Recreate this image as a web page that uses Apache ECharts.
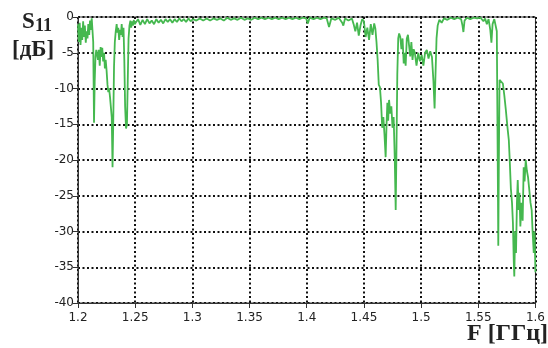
<!DOCTYPE html>
<html>
<head>
<meta charset="utf-8">
<script src="https://cdn.jsdelivr.net/npm/echarts@6/dist/echarts.min.js"></script>
<style>
  html, body { margin: 0; padding: 0; background: #fff; }
  #chart { width: 548px; height: 348px; }
</style>
</head>
<body>
<div id="chart"></div>
<script>
// Reflection coefficient S11 versus frequency
const freqGHz = [
  1.2000, 1.2008, 1.2015, 1.2022, 1.2030, 1.2037, 1.2045, 1.2052, 1.2060, 1.2068,
  1.2075, 1.2083, 1.2090, 1.2098, 1.2105, 1.2112, 1.2120, 1.2126, 1.2133, 1.2140,
  1.2146, 1.2153, 1.2160, 1.2168, 1.2175, 1.2182, 1.2190, 1.2198, 1.2205, 1.2212,
  1.2220, 1.2228, 1.2235, 1.2242, 1.2250, 1.2258, 1.2265, 1.2272, 1.2280, 1.2288,
  1.2295, 1.2302, 1.2308, 1.2315, 1.2322, 1.2330, 1.2338, 1.2345, 1.2352, 1.2360,
  1.2368, 1.2375, 1.2382, 1.2390, 1.2398, 1.2405, 1.2412, 1.2420, 1.2428, 1.2435,
  1.2442, 1.2450, 1.2458, 1.2465, 1.2472, 1.2480, 1.2488, 1.2495,
  1.2525, 1.2545, 1.2565, 1.2585, 1.2605, 1.2625, 1.2645, 1.2665, 1.2685, 1.2705,
  1.2725, 1.2745, 1.2765, 1.2785, 1.2805, 1.2825, 1.2845, 1.2865, 1.2885, 1.2905,
  1.2925, 1.2945, 1.2965, 1.2985, 1.3005, 1.3035, 1.3065, 1.3095, 1.3125, 1.3155,
  1.3185, 1.3215, 1.3245, 1.3275, 1.3305, 1.3335, 1.3365, 1.3395, 1.3425, 1.3455,
  1.3485, 1.3515, 1.3545, 1.3575, 1.3605, 1.3635, 1.3665, 1.3695, 1.3725, 1.3755,
  1.3785, 1.3815, 1.3845, 1.3875, 1.3905, 1.3935, 1.3965, 1.3995, 1.4010, 1.4025,
  1.4060, 1.4090, 1.4120, 1.4150, 1.4175, 1.4195, 1.4215, 1.4250, 1.4280, 1.4310,
  1.4320, 1.4335, 1.4365, 1.4395, 1.4410, 1.4425, 1.4440, 1.4455, 1.4470, 1.4485,
  1.4500, 1.4515, 1.4530, 1.4545, 1.4560, 1.4575, 1.4590, 1.4600, 1.4610, 1.4620,
  1.4630, 1.4640, 1.4650, 1.4660, 1.4670, 1.4680, 1.4690, 1.4698, 1.4705, 1.4712,
  1.4720, 1.4730, 1.4740, 1.4750, 1.4760, 1.4770, 1.4778, 1.4785, 1.4792, 1.4800,
  1.4808, 1.4818, 1.4828, 1.4838, 1.4848, 1.4855, 1.4865, 1.4875, 1.4885, 1.4895,
  1.4905, 1.4915, 1.4925, 1.4935, 1.4945, 1.4960, 1.4975, 1.4990, 1.5005, 1.5020,
  1.5035, 1.5050, 1.5065, 1.5080, 1.5095, 1.5108, 1.5118, 1.5126, 1.5135, 1.5145,
  1.5160, 1.5180, 1.5200, 1.5230, 1.5260, 1.5290, 1.5320, 1.5350, 1.5362, 1.5370,
  1.5380, 1.5400, 1.5430, 1.5460, 1.5490, 1.5520, 1.5545, 1.5560, 1.5575, 1.5590,
  1.5605, 1.5615, 1.5625, 1.5640, 1.5655, 1.5662, 1.5670, 1.5675, 1.5680, 1.5686,
  1.5700, 1.5715, 1.5728, 1.5741, 1.5755, 1.5767, 1.5775, 1.5785, 1.5795, 1.5803,
  1.5810, 1.5815, 1.5822, 1.5830, 1.5838, 1.5845, 1.5853, 1.5860, 1.5868, 1.5878,
  1.5888, 1.5897, 1.5905, 1.5915, 1.5925, 1.5935, 1.5945, 1.5957, 1.5967, 1.5975,
  1.5985, 1.5992, 1.6000
];

const s11dB = [
  -1.0, -3.5, -0.8, -3.9, -1.5, -3.2, -0.6, -2.8, -1.2, -3.6,
  -2.0, -3.0, -1.0, -2.5, -0.5, -1.8, -0.2, -0.4, -3.5, -14.8,
  -9.0, -5.5, -4.6, -4.4, -6.0, -4.6, -6.8, -4.2, -5.6, -4.3,
  -6.2, -5.0, -7.2, -6.0, -7.5, -9.5, -10.5, -10.0, -11.2, -11.0,
  -14.0, -21.0, -15.0, -7.0, -3.5, -2.0, -1.0, -2.2, -1.5, -3.2,
  -1.8, -2.5, -1.0, -2.8, -1.5, -6.0, -12.5, -15.6, -15.0, -9.0,
  -3.0, -1.2, -0.5, -1.5, -0.6, -1.2, -0.4, -1.0,
  -0.3, -1.1, -0.4, -1.0, -0.3, -0.9, -0.5, -1.0, -0.3, -0.8,
  -0.4, -0.9, -0.3, -0.7, -0.3, -0.8, -0.3, -0.7, -0.2, -0.6,
  -0.3, -0.7, -0.2, -0.6, -0.3, -0.5, -0.2, -0.5, -0.2, -0.5,
  -0.2, -0.4, -0.2, -0.5, -0.1, -0.4, -0.2, -0.4, -0.1, -0.4,
  -0.2, -0.4, -0.1, -0.3, -0.1, -0.3, -0.1, -0.3, -0.1, -0.3,
  -0.1, -0.3, -0.1, -0.3, -0.1, -0.3, -0.1, -0.2, -0.9, -0.1,
  -0.3, -0.1, -0.3, -0.1, -0.2, -1.4, -0.2, -0.4, -0.1, -0.8,
  -1.2, -0.2, -0.5, -0.2, -1.0, -2.0, -0.8, -2.6, -1.2, -0.3,
  -0.6, -2.8, -1.5, -3.2, -1.0, -2.5, -0.9, -1.6, -3.5, -6.0,
  -9.5, -9.8, -12.0, -15.5, -14.0, -16.5, -19.6, -15.0, -12.0, -14.5,
  -11.6, -13.5, -12.5, -15.5, -14.0, -20.0, -27.0, -18.0, -8.0, -3.0,
  -2.3, -2.8, -4.5, -3.0, -6.5, -5.0, -6.8, -3.0, -2.5, -4.0,
  -5.5, -3.5, -6.0, -4.5, -5.0, -6.8, -5.0, -6.2, -5.3, -6.8,
  -5.0, -4.6, -5.8, -4.8, -5.6, -9.0, -12.8, -8.0, -3.0, -1.2,
  -0.4, -0.8, -0.2, -0.4, -0.1, -0.3, -0.1, -0.3, -1.2, -2.1,
  -0.5, -0.1, -0.3, -0.1, -0.2, -0.1, -0.6, -0.2, -1.0, -0.3,
  -1.8, -3.6, -1.0, -0.3, -0.1, -2.0, -20.0, -32.0, -20.0, -8.8,
  -9.0, -9.3, -11.0, -13.0, -15.4, -17.2, -20.0, -24.0, -26.0, -28.8,
  -34.0, -36.3, -30.0, -33.0, -26.0, -22.8, -27.0, -24.6, -29.3, -26.0,
  -28.5, -21.0, -23.0, -20.0, -21.5, -22.4, -24.0, -26.0, -27.0, -30.0,
  -33.0, -30.0, -35.7
];

const xTickStep = 0.05;
const yTickStep = 5;

const points = freqGHz.map((f, i) => [f, s11dB[i]]);

const chart = echarts.init(document.getElementById('chart'), null, { renderer: 'canvas' });

const gridDots = { color: '#111', width: 2, type: [2, 2.5] };
const tickFont = { fontFamily: 'DejaVu Sans', fontSize: 12, color: '#222' };
const labelFont = 'Liberation Serif';

chart.setOption({
  backgroundColor: '#ffffff',
  animation: false,
  grid: {
    left: 78, right: 8, top: 17, bottom: 45,
    show: true, borderColor: '#333', borderWidth: 1, backgroundColor: 'transparent'
  },
  xAxis: {
    type: 'value',
    min: 1.2, max: 1.6, interval: xTickStep,
    axisLine: { show: true, onZero: false, lineStyle: { color: '#333', width: 1 } },
    axisTick: { show: true, length: 5, lineStyle: { color: '#333' } },
    axisLabel: Object.assign({ margin: 9, formatter: v => String(+v.toFixed(2)) }, tickFont),
    splitLine: { show: true, lineStyle: gridDots }
  },
  yAxis: {
    type: 'value',
    min: -40, max: 0, interval: yTickStep,
    axisLine: { show: true, onZero: false, lineStyle: { color: '#333', width: 1 } },
    axisTick: { show: true, length: 5, lineStyle: { color: '#333' } },
    axisLabel: Object.assign({ margin: 4 }, tickFont),
    splitLine: { show: true, lineStyle: gridDots }
  },
  series: [{
    type: 'line',
    data: points,
    showSymbol: false,
    smooth: false,
    clip: true,
    lineStyle: { color: '#45b84f', width: 1.8 },
    z: 5
  }],
  graphic: [
    { type: 'text', left: 22, top: 11,
      style: { text: 'S', font: 'bold 23px "' + labelFont + '"', fill: '#222' } },
    { type: 'text', left: 35, top: 17,
      style: { text: '11', font: 'bold 18px "' + labelFont + '"', fill: '#222' } },
    { type: 'text', left: 12, top: 39,
      style: { text: '[дБ]', font: 'bold 23px "' + labelFont + '"', fill: '#222' } },
    { type: 'text', right: 0, top: 322,
      style: { text: 'F [ГГц]', font: 'bold 24px "' + labelFont + '"', fill: '#222' } }
  ]
});
</script>
</body>
</html>
